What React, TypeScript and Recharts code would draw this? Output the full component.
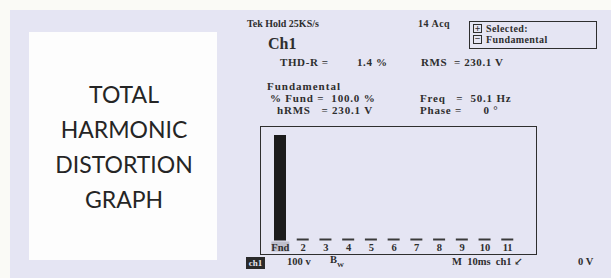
import React from "react";
import { BarChart, Bar, XAxis, YAxis, Cell } from "recharts";

// harmonic order labels and amplitude in % of fundamental
const orders = ["Fnd", "2", "3", "4", "5", "6", "7", "8", "9", "10", "11"];
const percentFund = [100, 1, 1, 1, 1, 1, 1, 1, 1, 1, 1];
const titleLines = ["TOTAL", "HARMONIC", "DISTORTION", "GRAPH"];

const data = orders.map((order, i) => ({ order, value: percentFund[i] }));

const ink = "#2e2e2e";
const serif = "'Liberation Serif', 'DejaVu Serif', serif";

function Txt({
  x,
  y,
  size = 10,
  spacing = 0,
  children,
  anchor = "start",
}: {
  x: number;
  y: number;
  size?: number;
  spacing?: number;
  children: React.ReactNode;
  anchor?: "start" | "middle";
}) {
  return (
    <span
      style={{
        position: "absolute",
        left: x,
        top: y,
        transform: anchor === "middle" ? "translate(-50%, -50%)" : "translateY(-50%)",
        fontFamily: serif,
        fontWeight: 700,
        fontSize: size,
        letterSpacing: spacing,
        lineHeight: 1,
        color: ink,
        whiteSpace: "pre",
      }}
    >
      {children}
    </span>
  );
}

const OrderTick = ({ x, y, payload }: any) => {
  const isFnd = payload.value === "Fnd";
  return (
    <g>
      {isFnd && <rect x={x - 9} y={y + 1} width={18} height={10} fill="#9a9aa4" opacity={0.5} />}
      <text
        x={x}
        y={y + 3}
        dy="0.71em"
        textAnchor="middle"
        fontFamily={serif}
        fontWeight={700}
        fontSize={10.5}
        fill={ink}
      >
        {payload.value}
      </text>
    </g>
  );
};

export default function App() {
  return (
    <div
      style={{
        position: "absolute",
        left: 0,
        top: 0,
        width: 611,
        height: 278,
        background: "#fafaf6",
        overflow: "hidden",
      }}
    >
      <div style={{ position: "absolute", left: 10, top: 10, right: 0, bottom: 0, background: "#e5e5f3" }} />
      <div style={{ position: "absolute", left: 29, top: 32, width: 188, height: 228, background: "#fdfdfd" }} />
      {titleLines.map((line, i) => (
        <span
          key={line}
          style={{
            position: "absolute",
            left: 124,
            top: 94 + i * 35,
            transform: "translate(-50%, -50%)",
            fontFamily: "Lato, 'Open Sans', sans-serif",
            fontSize: 23,
            lineHeight: 1,
            color: "#252525",
            whiteSpace: "nowrap",
          }}
        >
          {line}
        </span>
      ))}

      <Txt x={247} y={24}>Tek Hold 25KS/s</Txt>
      <Txt x={418} y={24} spacing={0.5}>14 Acq</Txt>
      <div
        style={{
          position: "absolute",
          left: 469,
          top: 21,
          width: 128,
          height: 28,
          border: `1.5px solid ${ink}`,
          boxSizing: "border-box",
        }}
      />
      <div style={{ position: "absolute", left: 473, top: 24, width: 9, height: 9, border: `1px solid ${ink}`, boxSizing: "border-box" }} />
      <Txt x={477.5} y={28.5} size={10} anchor="middle">+</Txt>
      <div style={{ position: "absolute", left: 473, top: 35, width: 9, height: 9, border: `1px solid ${ink}`, boxSizing: "border-box" }} />
      <Txt x={477.5} y={39} size={10} anchor="middle">−</Txt>
      <Txt x={486} y={29} spacing={0.4}>Selected:</Txt>
      <Txt x={486} y={40} spacing={0.4}>Fundamental</Txt>

      <Txt x={268} y={44} size={16}>Ch1</Txt>
      <Txt x={280} y={62} size={11} spacing={0.6}>THD-R =</Txt>
      <Txt x={357} y={62} size={11} spacing={0.6}>1.4 %</Txt>
      <Txt x={421} y={62} size={11} spacing={0.6}>RMS  = 230.1 V</Txt>
      <Txt x={267} y={86} size={11} spacing={1}>Fundamental</Txt>
      <Txt x={270} y={98} size={11} spacing={0.8}>% Fund =  100.0 %</Txt>
      <Txt x={277} y={110} size={11} spacing={0.8}>hRMS   = 230.1 V</Txt>
      <Txt x={420} y={98} size={11} spacing={0.8}>Freq   =  50.1 Hz</Txt>
      <Txt x={420} y={110} size={11} spacing={0.8}>Phase =      0 °</Txt>

      <div
        style={{
          position: "absolute",
          left: 260,
          top: 126,
          width: 277,
          height: 129,
          border: `1.5px solid ${ink}`,
          boxSizing: "border-box",
        }}
      >
        <BarChart
          width={274}
          height={126}
          data={data}
          margin={{ top: 8, right: 16, bottom: 0, left: 8 }}
          barSize={12}
        >
          <XAxis
            dataKey="order"
            height={12.5}
            axisLine={false}
            tickLine={false}
            tickSize={0}
            tickMargin={0}
            interval={0}
            tick={<OrderTick />}
          />
          <YAxis hide domain={[0, 100]} />
          <Bar dataKey="value" minPointSize={2} isAnimationActive={false}>
            {data.map((d) => (
              <Cell key={d.order} fill={d.order === "Fnd" ? "#1b1b1b" : "#3a3a3a"} />
            ))}
          </Bar>
        </BarChart>
      </div>

      <div
        style={{
          position: "absolute",
          left: 246,
          top: 257,
          width: 19,
          height: 12,
          background: "#2a2a2a",
        }}
      />
      <span
        style={{
          position: "absolute",
          left: 255.5,
          top: 263,
          transform: "translate(-50%, -50%)",
          fontFamily: serif,
          fontWeight: 700,
          fontSize: 9,
          lineHeight: 1,
          color: "#e6e6f3",
        }}
      >
        ch1
      </span>
      <Txt x={287} y={262} size={10.5}>100 v</Txt>
      <Txt x={330} y={262} size={10.5}>
        B<sub style={{ fontSize: 7 }}>W</sub>
      </Txt>
      <Txt x={452} y={262} size={10.5}>M  10ms  ch1 ↙</Txt>
      <Txt x={578} y={262} size={10.5}>0 V</Txt>
    </div>
  );
}
